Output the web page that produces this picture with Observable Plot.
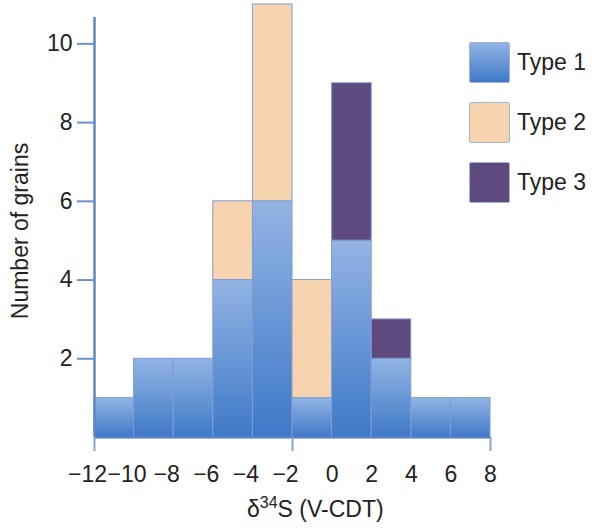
<!DOCTYPE html>
<html><head><meta charset="utf-8">
<script src="https://cdn.jsdelivr.net/npm/d3@7"></script>
<script src="https://cdn.jsdelivr.net/npm/@observablehq/plot@0.6"></script>
<style>
body{margin:0;background:#fff;font-family:"Liberation Sans",Arial,sans-serif}
#wrap{position:relative;width:595px;height:530px}
.legend{position:absolute;left:469px;top:42px}
.item{display:flex;align-items:center;height:41px;margin-bottom:19px}
.sw{width:41px;height:41px;box-sizing:border-box;border:1px solid #a3b2d2;border-radius:2px}
.lab{margin-left:7px;font-size:23px;color:#222;white-space:nowrap}
</style></head><body><div id="wrap"></div>
<script>
const binStarts = [-12,-10,-8,-6,-4,-2,0,2,4,6];
const binWidth = 2;
const types = ["Type 1","Type 2","Type 3"];
const type1 = [1,2,2,4,6,1,5,2,1,1];
const type2 = [0,0,0,2,5,3,0,0,0,0];
const type3 = [0,0,0,0,0,0,4,1,0,0];
const xTicks = [-12,-10,-8,-6,-4,-2,0,2,4,6,8];
const xMajorTicks = [-12,-2,8];
const yTicks = [2,4,6,8,10];
const fills = ["url(#gType1)", "#f5d4af", "#5e4a7f"];
const swatches = ["linear-gradient(#93b4e4,#3e79c8)", "#f5d4af", "#5e4a7f"];

const series = [type1, type2, type3];
const rows = [];
types.forEach((t, i) => {
  binStarts.forEach((b, j) => {
    if (series[i][j] > 0) rows.push({type: t, x1: b, x2: b + binWidth, count: series[i][j]});
  });
});

const font = '"Liberation Sans", Arial, sans-serif';
const plot = Plot.plot({
  width: 595, height: 530,
  marginLeft: 94, marginRight: 105, marginTop: 4, marginBottom: 93,
  style: {fontFamily: font, fontSize: "23px", color: "#222", background: "white", overflow: "visible"},
  x: {domain: [-12, 8]},
  y: {domain: [0, 11]},
  color: {type: "ordinal", domain: types, range: fills},
  marks: [
    Plot.rectY(rows, {x1: "x1", x2: "x2", y: "count", fill: "type", stroke: "#7f9dd2", strokeWidth: 1}),
    Plot.ruleY([0], {stroke: "#4f7cc4", strokeWidth: 2}),
    Plot.ruleX([-12], {y1: 0, y2: 11, insetBottom: -13, insetTop: -1, stroke: "#5f86c8", strokeWidth: 2.5}),
    Plot.axisY({ticks: yTicks, tickSize: 17, tickPadding: 5, stroke: "#6f92cf", strokeWidth: 2, label: null}),
    Plot.axisX({ticks: xMajorTicks, tickSize: 14, tickFormat: () => "", stroke: "#86a3d6", strokeWidth: 2, label: null}),
    Plot.axisX({ticks: xTicks.filter(v => v < 0), tickSize: 0, tickPadding: 28, dx: -7, label: null}),
    Plot.axisX({ticks: xTicks.filter(v => v >= 0), tickSize: 0, tickPadding: 28, label: null})
  ]
});

const svg = d3.select(plot);
const defs = svg.insert("defs", ":first-child");
const g1 = defs.append("linearGradient").attr("id", "gType1")
  .attr("x1", 0).attr("y1", 0).attr("x2", 0).attr("y2", 1);
g1.append("stop").attr("offset", "0%").attr("stop-color", "#93b4e4");
g1.append("stop").attr("offset", "100%").attr("stop-color", "#3e79c8");

svg.append("text")
  .attr("transform", "translate(28,231) rotate(-90)")
  .attr("text-anchor", "middle")
  .attr("fill", "#222")
  .style("font-size", "23px")
  .text("Number of grains");

const xt = svg.append("text")
  .attr("x", 247).attr("y", 517)
  .attr("text-anchor", "start")
  .attr("fill", "#222")
  .style("font-size", "23px");
xt.append("tspan").text("δ");
xt.append("tspan").attr("dy", -9).style("font-size", "16px").text("34");
xt.append("tspan").attr("dy", 9).text("S (V-CDT)");

const wrap = document.getElementById("wrap");
wrap.appendChild(plot);
const leg = document.createElement("div");
leg.className = "legend";
types.forEach((t, i) => {
  const it = document.createElement("div"); it.className = "item";
  const sw = document.createElement("div"); sw.className = "sw"; sw.style.background = swatches[i];
  const lb = document.createElement("span"); lb.className = "lab"; lb.textContent = t;
  it.appendChild(sw); it.appendChild(lb); leg.appendChild(it);
});
wrap.appendChild(leg);
</script></body></html>
